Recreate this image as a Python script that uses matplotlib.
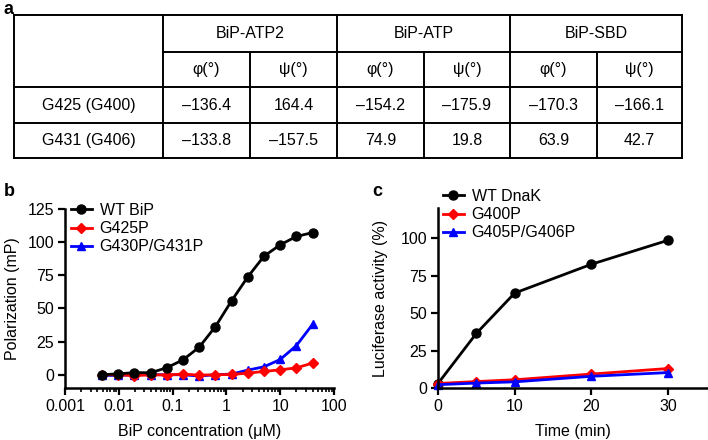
import numpy as np
import matplotlib
matplotlib.use('Agg')
import matplotlib.pyplot as plt
from matplotlib.ticker import LogLocator, NullFormatter

plt.rcParams['font.family'] = ['Liberation Sans', 'DejaVu Sans']
FS = 11.5
plt.rcParams['font.size'] = FS

# ---- panel a: dihedral angle table ----
structures = ['BiP-ATP2', 'BiP-ATP', 'BiP-SBD']
angle_names = ['φ(°)', 'ψ(°)']
residues = ['G425 (G400)', 'G431 (G406)']
angles = [
    ['\u2013136.4', '164.4', '\u2013154.2', '\u2013175.9', '\u2013170.3', '\u2013166.1'],
    ['\u2013133.8', '\u2013157.5', '74.9', '19.8', '63.9', '42.7'],
]

# ---- panel b: polarization vs BiP concentration ----
conc = [0.0049, 0.0098, 0.0195, 0.039, 0.078, 0.156, 0.3125,
        0.625, 1.25, 2.5, 5, 10, 20, 40]
wt_bip = [0, 0.7, 1.6, 1.5, 5.3, 11.2, 20.8, 36.3, 55.8, 73.8, 89.4, 98.0, 104.3, 107.2]
g425p = [0, 0, -0.7, 0, -0.2, 0.5, -0.3, 0, 0.2, 1.2, 2.5, 3.7, 5.2, 8.8]
g430p_g431p = [-0.5, -0.5, 0, 0, 0, 0, -1, 0, 0.5, 3.5, 6, 11.5, 22, 38]

# ---- panel c: luciferase refolding ----
time_min = [0, 5, 10, 20, 30]
wt_dnak = [3, 36.4, 63.3, 82.5, 98.5]
g400p = [3, 4.3, 5.5, 9.3, 13]
g405p_g406p = [2.2, 3.3, 4.1, 7.8, 10.3]

W, H = 708, 440
fig = plt.figure(figsize=(W / 100, H / 100), dpi=100)


def px_axes(left, top, right, bottom):
    return fig.add_axes([left / W, 1 - bottom / H, (right - left) / W, (bottom - top) / H])


# table drawn in pixel units
col_edges = [14, 163, 250, 337, 424, 510, 597, 682]
row_edges = [15, 52, 87, 123, 158]
ta = px_axes(col_edges[0], row_edges[0], col_edges[-1], row_edges[-1])
ta.set_xlim(col_edges[0], col_edges[-1])
ta.set_ylim(row_edges[-1], row_edges[0])
ta.axis('off')
lw = 1.4
for y in row_edges:
    x0 = col_edges[1] if y == row_edges[1] else col_edges[0]
    ta.plot([x0, col_edges[-1]], [y, y], color='black', lw=lw, solid_capstyle='projecting', clip_on=False)
for i, x in enumerate(col_edges):
    y0 = row_edges[1] if i in (2, 4, 6) else row_edges[0]
    ta.plot([x, x], [y0, row_edges[-1]], color='black', lw=lw, solid_capstyle='projecting', clip_on=False)
for k, name in enumerate(structures):
    xc = (col_edges[1 + 2 * k] + col_edges[3 + 2 * k]) / 2
    ta.text(xc, (row_edges[0] + row_edges[1]) / 2, name, ha='center', va='center')
    for j, a in enumerate(angle_names):
        xc = (col_edges[1 + 2 * k + j] + col_edges[2 + 2 * k + j]) / 2
        ta.text(xc, (row_edges[1] + row_edges[2]) / 2, a, ha='center', va='center')
for r, res in enumerate(residues):
    yc = (row_edges[2 + r] + row_edges[3 + r]) / 2
    ta.text((col_edges[0] + col_edges[1]) / 2, yc, res, ha='center', va='center')
    for c, val in enumerate(angles[r]):
        xc = (col_edges[1 + c] + col_edges[2 + c]) / 2
        ta.text(xc, yc, val, ha='center', va='center')


def style_axes(ax):
    for s in ['top', 'right']:
        ax.spines[s].set_visible(False)
    for s in ['left', 'bottom']:
        ax.spines[s].set_linewidth(1.8)
    ax.tick_params(which='major', direction='out', length=5, width=1.6, labelsize=FS, pad=3)
    ax.tick_params(which='minor', direction='out', length=3, width=1.2)


leg_kw = dict(loc='upper left', bbox_transform=fig.transFigure, frameon=False, fontsize=FS,
              handlelength=1.3, handletextpad=0.5, labelspacing=0.2, borderpad=0, borderaxespad=0)

# panel b
axb = px_axes(65, 209, 334, 388)
axb.plot(conc, g430p_g431p, color='blue', lw=2, marker='^', ms=6, zorder=3, label='G430P/G431P')
axb.plot(conc, g425p, color='red', lw=2, marker='D', ms=5, zorder=4, label='G425P')
axb.plot(conc, wt_bip, color='black', lw=2, marker='o', ms=6.5, zorder=5, label='WT BiP')
axb.set_xscale('log')
axb.set_xlim(0.001, 100)
axb.set_ylim(-10, 125)
axb.set_yticks([0, 25, 50, 75, 100, 125])
axb.set_xticks([0.001, 0.01, 0.1, 1, 10, 100])
axb.set_xticklabels(['0.001', '0.01', '0.1', '1', '10', '100'])
axb.xaxis.set_minor_locator(LogLocator(base=10, subs=np.arange(2, 10)))
axb.xaxis.set_minor_formatter(NullFormatter())
style_axes(axb)
axb.set_xlabel('BiP concentration (μM)', labelpad=7)
axb.set_ylabel('Polarization (mP)', labelpad=5)
h, l = axb.get_legend_handles_labels()
axb.legend(h[::-1], l[::-1], bbox_to_anchor=(71 / W, 1 - 203 / H), **leg_kw)

# panel c
axc = px_axes(438, 208, 708, 388)
axc.plot(time_min, wt_dnak, color='black', lw=2, marker='o', ms=6.5, label='WT DnaK', clip_on=False)
axc.plot(time_min, g400p, color='red', lw=2, marker='D', ms=5, label='G400P', clip_on=False)
axc.plot(time_min, g405p_g406p, color='blue', lw=2, marker='^', ms=6, label='G405P/G406P', clip_on=False)
axc.set_xlim(0, 35.2)
axc.set_ylim(0, 120)
axc.set_xticks([0, 10, 20, 30])
axc.set_yticks([0, 25, 50, 75, 100])
style_axes(axc)
axc.set_xlabel('Time (min)', labelpad=7)
axc.set_ylabel('Luciferase activity (%)', labelpad=9)
axc.legend(bbox_to_anchor=(443 / W, 1 - 189 / H), **leg_kw)

# panel letters
fig.text(4 / W, 1 - 1 / H, 'a', fontsize=13, fontweight='bold', va='top')
fig.text(4 / W, 1 - 183 / H, 'b', fontsize=13, fontweight='bold', va='top')
fig.text(372 / W, 1 - 183 / H, 'c', fontsize=13, fontweight='bold', va='top')

fig.savefig('out.png', dpi=100)
